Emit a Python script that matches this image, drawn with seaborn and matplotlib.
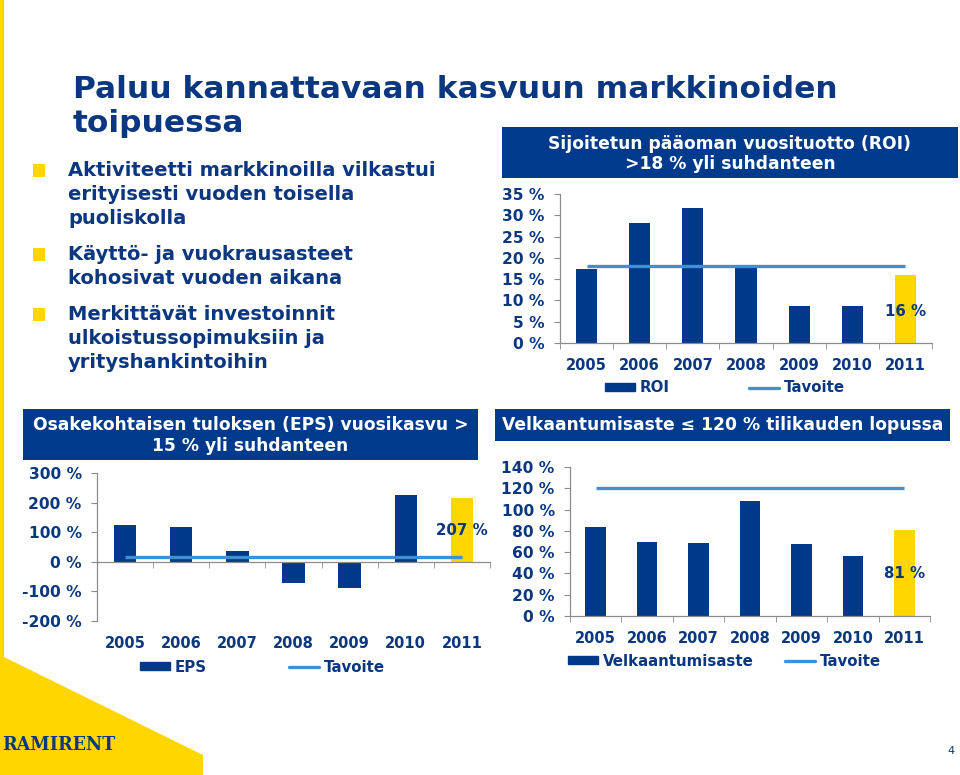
import numpy as np
import matplotlib
matplotlib.use("Agg")
import matplotlib.pyplot as plt
import seaborn as sns
from matplotlib.patches import Patch, Rectangle, Polygon
from matplotlib.lines import Line2D

sns.set_style("white")
plt.rcParams['font.family'] = ['DejaVu Sans']
plt.rcParams['font.weight'] = 'bold'

BAR = '#00388A'
BOX = '#003A8C'
YELLOW = '#FFD600'
LINE = '#3F8FD2'
TEXT = '#0A3780'
GRAY = '#8C8C8C'

# data
years = ['2005', '2006', '2007', '2008', '2009', '2010', '2011']
bar_colors = [BAR, BAR, BAR, BAR, BAR, BAR, YELLOW]

roi = [17.3, 28.1, 31.8, 17.9, 8.6, 8.6, 15.9]
roi_target = [18, 18, 18, 18, 18, 18, 18]

eps = [126, 117, 37, -70, -87, 225, 215]
eps_target = [15, 15, 15, 15, 15, 15, 15]

gearing = [84, 70, 69, 108, 68, 56, 81]
gearing_target = [120, 120, 120, 120, 120, 120, 120]

title_lines = ['Paluu kannattavaan kasvuun markkinoiden', 'toipuessa']
bullets = [
    ['Aktiviteetti markkinoilla vilkastui', 'erityisesti vuoden toisella', 'puoliskolla'],
    ['Käyttö- ja vuokrausasteet', 'kohosivat vuoden aikana'],
    ['Merkittävät investoinnit', 'ulkoistussopimuksiin ja', 'yrityshankintoihin'],
]

W, H = 960, 775
fig = plt.figure(figsize=(W / 100, H / 100), dpi=100)

# background layer in pixel coordinates
bg = fig.add_axes([0, 0, 1, 1], zorder=0)
bg.set_xlim(0, W)
bg.set_ylim(H, 0)
bg.axis('off')
bg.add_patch(Rectangle((0, 0), 4, 660, color=YELLOW, lw=0))
bg.add_patch(Polygon([(0, 657), (4, 657), (203, 755), (203, H), (0, H)], closed=True, color=YELLOW, lw=0))
bg.text(2, 745, 'RAMIRENT', family='DejaVu Serif', stretch='condensed', fontsize=14,
        color=TEXT, va='center', ha='left')
bg.text(951, 751, '4', fontsize=8, fontweight='normal', color=TEXT, va='center', ha='center')

bg.text(73, 90, title_lines[0], fontsize=22.5, color=TEXT, va='center')
bg.text(73, 124, title_lines[1], fontsize=22.5, color=TEXT, va='center')

y = 171
for lines in bullets:
    bg.add_patch(Rectangle((33, y - 7), 12, 13, color=YELLOW, lw=0))
    for ln in lines:
        bg.text(68, y, ln, fontsize=14, color=TEXT, va='center')
        y += 24
    y += 12


def title_box(x0, y0, x1, y1, lines, centers):
    bg.add_patch(Rectangle((x0, y0), x1 - x0, y1 - y0, color=BOX, lw=0))
    for ln, cy in zip(lines, centers):
        bg.text((x0 + x1) / 2, cy, ln, fontsize=12.3, color='white', ha='center', va='center')


title_box(502, 127, 958, 178, ['Sijoitetun pääoman vuosituotto (ROI)', '>18 % yli suhdanteen'], [144, 164])
title_box(23, 409, 478, 460, ['Osakekohtaisen tuloksen (EPS) vuosikasvu >', '15 % yli suhdanteen'], [425, 446])
title_box(495, 409, 950, 441, ['Velkaantumisaste ≤ 120 % tilikauden lopussa'], [425])


def px_axes(l, t, r, b):
    return fig.add_axes([l / W, 1 - b / H, (r - l) / W, (b - t) / H], zorder=2)


def panel(ax, values, target, ylim, yticks, note, note_y, zero_axis=False):
    sns.barplot(x=years, y=values, hue=years, palette=bar_colors, width=0.4,
                saturation=1, linewidth=0, legend=False, ax=ax)
    ax.plot(range(len(years)), target, color=LINE, lw=2.4, solid_capstyle='butt', zorder=3)
    ax.set_facecolor('none')
    ax.set_xlim(-0.5, len(years) - 0.5)
    ax.set_ylim(*ylim)
    ax.set_yticks(yticks)
    ax.set_yticklabels([f'{v} %' for v in yticks])
    ax.set_xticks([])
    ax.set_xticks(np.arange(-0.5, len(years)), minor=True)
    ax.set_xlabel('')
    ax.set_ylabel('')
    for s in ['top', 'right']:
        ax.spines[s].set_visible(False)
    for s in ['left', 'bottom']:
        ax.spines[s].set_color(GRAY)
        ax.spines[s].set_linewidth(0.9)
    if zero_axis:
        ax.spines['bottom'].set_position(('data', 0))
    ax.tick_params(axis='y', direction='out', length=4, color=GRAY, labelcolor=TEXT,
                   labelsize=11.2, pad=7, left=True)
    ax.tick_params(axis='x', which='minor', direction='out', length=4, color=GRAY, bottom=True)
    for i, yr in enumerate(years):
        ax.text(i, -0.15, yr, transform=ax.get_xaxis_transform(), ha='center', va='center',
                fontsize=10.5, color=TEXT)
    ax.text(len(years) - 1, note_y, note, ha='center', va='center', fontsize=10.8, color=TEXT, zorder=4)


def legend(label, x, y, spacing):
    handles = [Patch(color=BAR), Line2D([], [], color=LINE, lw=2.4)]
    fig.legend(handles, [label, 'Tavoite'], loc='center left', bbox_to_anchor=(x / W, 1 - y / H),
               ncol=2, frameon=False, handlelength=2.0, handleheight=0.5, handletextpad=0.3,
               columnspacing=spacing, borderpad=0, borderaxespad=0, fontsize=10.8,
               labelcolor=TEXT)


ax1 = px_axes(560, 194, 932, 343)
panel(ax1, roi, roi_target, (0, 35), [0, 5, 10, 15, 20, 25, 30, 35], '16 %', 7.5)
legend('ROI', 605, 388, 5.3)

ax2 = px_axes(97, 473, 490, 621)
panel(ax2, eps, eps_target, (-200, 300), [-200, -100, 0, 100, 200, 300], '207 %', 105, zero_axis=True)
legend('EPS', 140, 667, 5.5)

ax3 = px_axes(570, 467, 930, 616)
panel(ax3, gearing, gearing_target, (0, 140), [0, 20, 40, 60, 80, 100, 120, 140], '81 %', 40)
legend('Velkaantumisaste', 568, 661, 2.1)

fig.savefig('out.png', dpi=100)
